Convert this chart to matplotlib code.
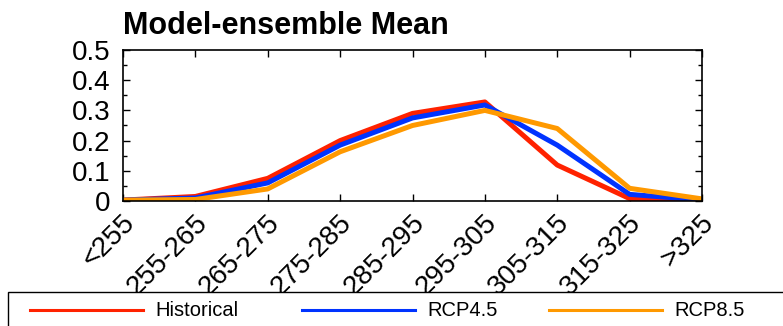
import matplotlib
matplotlib.use('Agg')
import matplotlib.pyplot as plt
import matplotlib.patches as mpatches
import matplotlib.lines as mlines
from matplotlib.ticker import MultipleLocator
import matplotlib.transforms as mtrans
import numpy as np

plt.rcParams['font.family'] = ['Liberation Sans', 'DejaVu Sans']

# temperature bins
bins = ['<255', '255-265', '265-275', '275-285', '285-295',
        '295-305', '305-315', '315-325', '>325']

# model-ensemble mean frequencies
historical = [0.003, 0.015, 0.075, 0.200, 0.290, 0.328, 0.119, 0.008, 0.0]
rcp45      = [0.003, 0.010, 0.060, 0.185, 0.275, 0.318, 0.185, 0.022, 0.003]
rcp85      = [0.003, 0.005, 0.040, 0.163, 0.250, 0.300, 0.240, 0.042, 0.007]

series = ['Historical', 'RCP4.5', 'RCP8.5']
colors = ['#ff2200', '#0033ff', '#ff9900']

fig = plt.figure(figsize=(7.83, 3.26), dpi=100)
ax = fig.add_axes([123/783, 1-201/326, (702-123)/783, (201-50)/326])

x = np.arange(len(bins))
for vals, c, name in zip([historical, rcp45, rcp85], colors, series):
    ax.plot(x, vals, color=c, lw=3.6, label=name)

ax.set_xlim(0, len(bins)-1)
ax.set_ylim(0, 0.5)
ax.set_xticks(x)
ax.set_xticklabels(bins, fontsize=20, rotation=45, ha='right',
                   va='center', rotation_mode='anchor')
ax.yaxis.set_minor_locator(MultipleLocator(0.05))
ax.set_yticks([0, 0.1, 0.2, 0.3, 0.4, 0.5])
ax.set_yticklabels(['0', '0.1', '0.2', '0.3', '0.4', '0.5'], fontsize=20)
ax.tick_params(axis='both', which='major', direction='in', length=5, width=1,
               top=True, right=True)
ax.tick_params(axis='y', which='minor', direction='in', length=3, width=1,
               left=True, right=True)
ax.tick_params(axis='x', which='major', pad=13)
ax.tick_params(axis='y', which='major', pad=9)
for s in ax.spines.values():
    s.set_linewidth(1.2)

# push the rotated labels a bit to the right of their ticks
shift = mtrans.ScaledTranslation(8/100, 0, fig.dpi_scale_trans)
for lab in ax.get_xticklabels():
    lab.set_transform(lab.get_transform() + shift)

fig.text(123/783, 1-34/326, 'Model-ensemble Mean', fontsize=22,
         fontweight='bold', va='baseline', ha='left')

# legend box at the bottom, covering the lower part of the tick labels
box = mpatches.Rectangle((8/783, -0.05), 1.0, (326-292)/326 + 0.05,
                         transform=fig.transFigure, facecolor='white',
                         edgecolor='black', lw=1.0, zorder=3)
fig.patches.append(box)

line_x0 = [30, 302, 549]
ly = 1 - 310/326
for x0, c, name in zip(line_x0, colors, series):
    fig.add_artist(mlines.Line2D([x0/783, (x0+113)/783], [ly, ly], color=c,
                                 lw=2.2, transform=fig.transFigure, zorder=4))
    fig.text((x0+125)/783, ly, name, fontsize=14.5, va='center', ha='left',
             zorder=5)

fig.savefig('out.png', dpi=100)
